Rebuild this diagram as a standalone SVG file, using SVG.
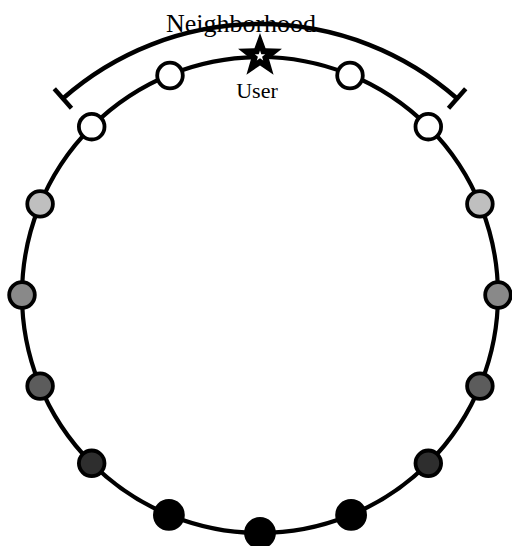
<svg xmlns="http://www.w3.org/2000/svg" width="512" height="546" viewBox="0 0 512 546">
<style>
.lbl{font-family:"Liberation Serif","Times New Roman",serif;fill:#000;text-anchor:middle}
.ring{fill:none;stroke:#000;stroke-width:4.2}
.nb{fill:none;stroke:#000;stroke-width:4.5}
.node{stroke:#000;stroke-width:3.8}
.w{fill:#fff}.g1{fill:#bfbfbf}.g2{fill:#898989}.g3{fill:#5c5c5c}.g4{fill:#2e2e2e}.b{fill:#000}
</style>
<rect width="512" height="546" fill="#fff"/>
<text class="lbl" x="241" y="32" font-size="26">Neighborhood</text>
<g id="connectors">
<circle class="ring" cx="260" cy="295" r="238"/>
<path class="nb" d="M62.9 98.5 A298 298 0 0 1 457.1 98.5"/>
<line class="nb" x1="54.3" y1="88.75" x2="71.5" y2="108.25"/>
<line class="nb" x1="465.7" y1="88.75" x2="448.5" y2="108.25"/>
</g>
<g id="user">
<path fill="#000" transform="translate(260,56) scale(1.05)" d="M0,-22 L5.29,-7.28 L20.92,-6.8 L8.56,2.78 L12.93,17.8 L0,9 L-12.93,17.8 L-8.56,2.78 L-20.92,-6.8 L-5.29,-7.28 Z"/>
<path fill="#fff" transform="translate(260,56)" d="M0,-5.5 L1.29,-1.78 L5.23,-1.7 L2.09,0.68 L3.23,4.45 L0,2.2 L-3.23,4.45 L-2.09,0.68 L-5.23,-1.7 L-1.29,-1.78 Z"/>
<text class="lbl" x="257" y="98" font-size="22">User</text>
</g>
<g id="n1"><circle class="node w" cx="350" cy="75.5" r="12.8"/></g>
<g id="n2"><circle class="node w" cx="428.3" cy="126.7" r="12.8"/></g>
<g id="n3"><circle class="node g1" cx="479.9" cy="203.9" r="12.8"/></g>
<g id="n4"><circle class="node g2" cx="498" cy="295" r="12.8"/></g>
<g id="n5"><circle class="node g3" cx="479.9" cy="386.1" r="12.8"/></g>
<g id="n6"><circle class="node g4" cx="428.3" cy="463.3" r="12.8"/></g>
<g id="n7"><circle class="node b" cx="351.1" cy="514.9" r="14"/></g>
<g id="n8"><circle class="node b" cx="260" cy="533" r="14"/></g>
<g id="n9"><circle class="node b" cx="168.9" cy="514.9" r="14"/></g>
<g id="n10"><circle class="node g4" cx="91.7" cy="463.3" r="12.8"/></g>
<g id="n11"><circle class="node g3" cx="40.1" cy="386.1" r="12.8"/></g>
<g id="n12"><circle class="node g2" cx="22" cy="295" r="12.8"/></g>
<g id="n13"><circle class="node g1" cx="40.1" cy="203.9" r="12.8"/></g>
<g id="n14"><circle class="node w" cx="91.7" cy="126.7" r="12.8"/></g>
<g id="n15"><circle class="node w" cx="170" cy="75.5" r="12.8"/></g>
</svg>
